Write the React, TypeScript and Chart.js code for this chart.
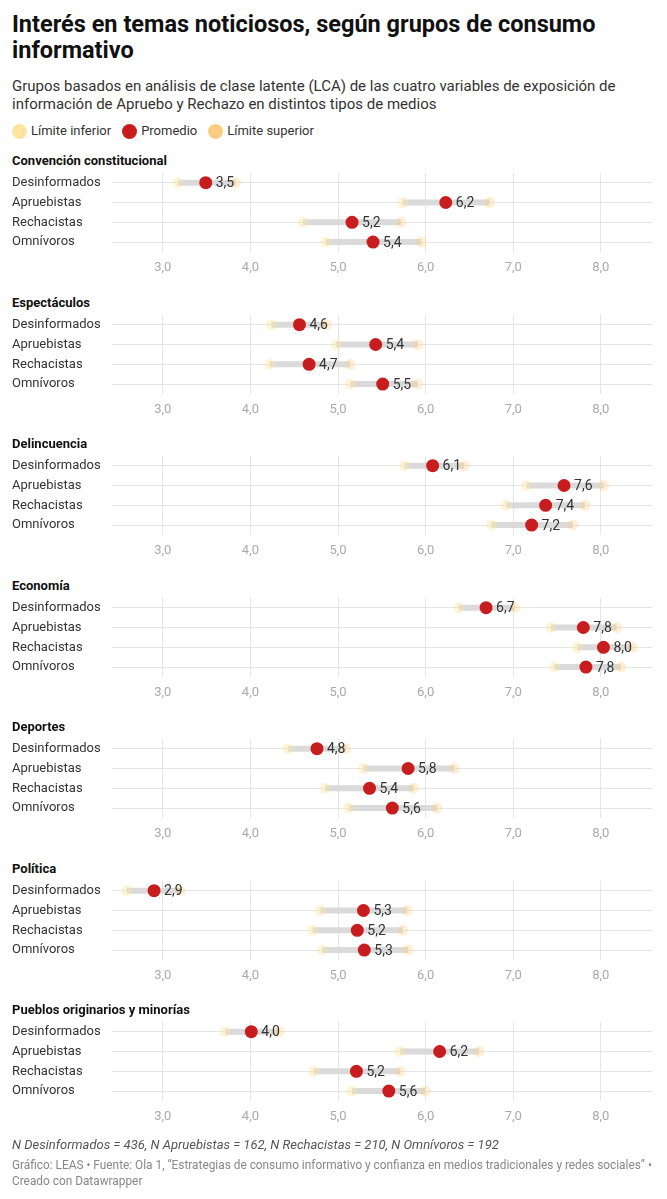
import React, { useEffect, useRef } from 'react';
import { Chart, registerables } from 'chart.js';
Chart.register(...registerables);

const groups = ['Desinformados', 'Apruebistas', 'Rechacistas', 'Omnívoros'];
const xTicks = [3, 4, 5, 6, 7, 8];
const xMin = 2.42;
const xMax = 8.59;

const convencionLower = [3.17, 5.74, 4.6, 4.86];
const convencionMean = [3.49, 6.23, 5.16, 5.4];
const convencionUpper = [3.83, 6.73, 5.72, 5.95];

const espectaculosLower = [4.24, 4.98, 4.22, 5.14];
const espectaculosMean = [4.56, 5.43, 4.67, 5.51];
const espectaculosUpper = [4.87, 5.91, 5.14, 5.91];

const delincuenciaLower = [5.76, 7.15, 6.92, 6.75];
const delincuenciaMean = [6.08, 7.58, 7.37, 7.21];
const delincuenciaUpper = [6.44, 8.03, 7.82, 7.68];

const economiaLower = [6.38, 7.43, 7.73, 7.47];
const economiaMean = [6.69, 7.8, 8.03, 7.83];
const economiaUpper = [7.02, 8.18, 8.36, 8.23];

const deportesLower = [4.43, 5.29, 4.85, 5.12];
const deportesMean = [4.76, 5.8, 5.36, 5.62];
const deportesUpper = [5.09, 6.33, 5.86, 6.13];

const politicaLower = [2.59, 4.8, 4.71, 4.82];
const politicaMean = [2.9, 5.29, 5.22, 5.3];
const politicaUpper = [3.2, 5.79, 5.74, 5.8];

const pueblosLower = [3.71, 5.71, 4.72, 5.16];
const pueblosMean = [4.01, 6.16, 5.21, 5.58];
const pueblosUpper = [4.33, 6.61, 5.71, 6.0];

const topics = [
  'Convención constitucional',
  'Espectáculos',
  'Delincuencia',
  'Economía',
  'Deportes',
  'Política',
  'Pueblos originarios y minorías',
];

const panels = [
  { lower: convencionLower, mean: convencionMean, upper: convencionUpper },
  { lower: espectaculosLower, mean: espectaculosMean, upper: espectaculosUpper },
  { lower: delincuenciaLower, mean: delincuenciaMean, upper: delincuenciaUpper },
  { lower: economiaLower, mean: economiaMean, upper: economiaUpper },
  { lower: deportesLower, mean: deportesMean, upper: deportesUpper },
  { lower: politicaLower, mean: politicaMean, upper: politicaUpper },
  { lower: pueblosLower, mean: pueblosMean, upper: pueblosUpper },
];

const RED = '#c81d1f';
const LOWER_C = 'rgb(253,229,160)';
const UPPER_C = 'rgb(253,204,128)';
const FONT = 'Roboto, "Noto Sans", sans-serif';

const fmt = (v: number) => v.toFixed(1).replace('.', ',');

const labelPlugin = {
  id: 'valueLabels',
  afterDatasetsDraw(chart: any) {
    const meta = chart.getDatasetMeta(0);
    const c = chart.ctx;
    c.save();
    c.font = '14px ' + FONT;
    c.fillStyle = '#333';
    c.textBaseline = 'middle';
    c.textAlign = 'left';
    meta.data.forEach((pt: any, i: number) => {
      const v = chart.data.datasets[0].data[i].x;
      c.fillText(fmt(v), pt.x + 10, pt.y + 1);
    });
    c.restore();
  },
};

const PANEL_PITCH = 141.5;
const CANVAS_W = 651;
const CANVAS_H = 129;

function Panel({ lower, mean, upper }: { lower: number[]; mean: number[]; upper: number[] }) {
  const ref = useRef<HTMLCanvasElement>(null);
  useEffect(() => {
    const rangeSets = groups.map((g, i) => ({
      type: 'line' as const,
      label: g,
      data: [
        { x: lower[i], y: i },
        { x: upper[i], y: i },
      ],
      borderColor: '#dadada',
      borderWidth: 6,
      pointRadius: 0,
      borderCapStyle: 'butt' as const,
      showLine: true,
      order: 3,
    }));
    const chart = new Chart(ref.current!, {
      type: 'scatter',
      data: {
        datasets: [
          {
            label: 'Promedio',
            data: mean.map((v, i) => ({ x: v, y: i })),
            backgroundColor: RED,
            borderWidth: 0,
            pointRadius: 6.5,
            order: 0,
          },
          {
            label: 'Límite inferior',
            data: lower.map((v, i) => ({ x: v, y: i })),
            backgroundColor: 'rgba(253,229,160,0.4)',
            borderWidth: 0,
            pointRadius: 5.5,
            order: 1,
          },
          {
            label: 'Límite superior',
            data: upper.map((v, i) => ({ x: v, y: i })),
            backgroundColor: 'rgba(253,204,128,0.32)',
            borderWidth: 0,
            pointRadius: 5.5,
            order: 1,
          },
          ...(rangeSets as any[]),
        ],
      },
      options: {
        animation: false,
        responsive: false,
        maintainAspectRatio: false,
        layout: { padding: { left: 4, right: 3, top: 0, bottom: 0 } },
        plugins: { legend: { display: false }, tooltip: { enabled: false } },
        scales: {
          x: {
            type: 'linear',
            min: xMin,
            max: xMax,
            afterBuildTicks: (s: any) => {
              s.ticks = xTicks.map((v) => ({ value: v }));
            },
            afterFit: (s: any) => {
              s.height = 42;
            },
            grid: { color: '#e5e5e5', drawTicks: false },
            border: { display: false },
            ticks: {
              padding: 8,
              color: '#aaaaaa',
              font: { family: FONT, size: 13 },
              callback: (v: any) => fmt(Number(v)),
            },
          },
          y: {
            type: 'linear',
            min: -0.5,
            max: 3.5,
            reverse: true,
            afterBuildTicks: (s: any) => {
              s.ticks = groups.map((_, i) => ({ value: i }));
            },
            afterFit: (s: any) => {
              s.width = 100;
            },
            grid: { color: '#e5e5e5', drawTicks: false },
            border: { display: false },
            ticks: {
              crossAlign: 'far',
              padding: 0,
              color: '#333',
              font: { family: FONT, size: 13 },
              callback: (v: any) => groups[Number(v)] ?? '',
            },
          },
        },
      } as any,
      plugins: [labelPlugin],
    });
    if ((document as any).fonts && (document as any).fonts.ready) {
      (document as any).fonts.ready.then(() => {
        try { chart.update(); } catch (e) {}
      });
    }
    return () => chart.destroy();
  }, []);
  return <canvas ref={ref} width={CANVAS_W} height={CANVAS_H} style={{ display: 'block', width: CANVAS_W, height: CANVAS_H }} />;
}

function LegendItem({ color, label }: { color: string; label: string }) {
  return (
    <span style={{ display: 'inline-flex', alignItems: 'center', marginRight: 11 }}>
      <span style={{ display: 'inline-block', width: 15, height: 15, borderRadius: '50%', background: color, marginRight: 4 }} />
      <span>{label}</span>
    </span>
  );
}

export default function App() {
  useEffect(() => {
    document.documentElement.style.overflow = 'hidden';
  }, []);
  return (
    <div style={{ position: 'relative', width: CANVAS_W, height: 1183, fontFamily: FONT, color: '#333' }}>
      <div style={{ position: 'absolute', left: 4, top: 3, width: 645, fontSize: 23.5, lineHeight: '26px', fontWeight: 700, color: '#111' }}>
        Interés en temas noticiosos, según grupos de consumo informativo
      </div>
      <div style={{ position: 'absolute', left: 4, top: 69, width: 645, fontSize: 15, lineHeight: '18px', color: '#333' }}>
        Grupos basados en análisis de clase latente (LCA) de las cuatro variables de exposición de información de Apruebo y Rechazo en distintos tipos de medios
      </div>
      <div style={{ position: 'absolute', left: 4, top: 114, fontSize: 13, lineHeight: '18px', color: '#333', display: 'flex' }}>
        <LegendItem color={LOWER_C} label="Límite inferior" />
        <LegendItem color={RED} label="Promedio" />
        <LegendItem color={UPPER_C} label="Límite superior" />
      </div>
      {panels.map((p, k) => (
        <React.Fragment key={k}>
          <div style={{ position: 'absolute', left: 4, top: 144 + PANEL_PITCH * k, fontSize: 13, lineHeight: '18px', fontWeight: 700, color: '#111' }}>
            {topics[k]}
          </div>
          <div style={{ position: 'absolute', left: 0, top: 157 + PANEL_PITCH * k }}>
            <Panel lower={p.lower} mean={p.mean} upper={p.upper} />
          </div>
        </React.Fragment>
      ))}
      <div style={{ position: 'absolute', left: 4, top: 1129, fontSize: 13, lineHeight: '16px', fontStyle: 'italic', color: '#555' }}>
        N Desinformados = 436, N Apruebistas = 162, N Rechacistas = 210, N Omnívoros = 192
      </div>
      <div style={{ position: 'absolute', left: 4, top: 1149, width: 655, fontSize: 11.85, lineHeight: '16px', color: '#888' }}>
        Gráfico: LEAS • Fuente: Ola 1, “Estrategias de consumo informativo y confianza en medios tradicionales y redes sociales” •
        <br />
        Creado con Datawrapper
      </div>
    </div>
  );
}
